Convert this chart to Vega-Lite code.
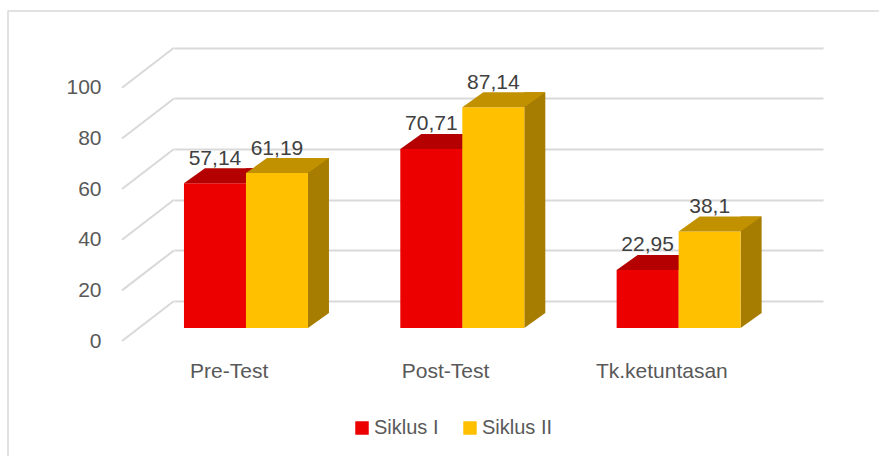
{
  "$schema": "https://vega.github.io/schema/vega-lite/v6.json",
  "width": 871,
  "height": 445,
  "autosize": {"type": "none"},
  "padding": {"left": 8, "top": 11, "right": 0, "bottom": 0},
  "background": "#FFFFFF",
  "config": {
    "view": {"stroke": "#D9D9D9", "strokeWidth": 1.5, "strokeDash": [871, 1316, 445]},
    "locale": {"number": {"decimal": ",", "thousands": ".", "grouping": [3], "currency": ["", ""]}}
  },
  "datasets": {
    "main": [
      {"kategori": "Pre-Test", "siklus": "Siklus I", "nilai": 57.14},
      {"kategori": "Pre-Test", "siklus": "Siklus II", "nilai": 61.19},
      {"kategori": "Post-Test", "siklus": "Siklus I", "nilai": 70.71},
      {"kategori": "Post-Test", "siklus": "Siklus II", "nilai": 87.14},
      {"kategori": "Tk.ketuntasan", "siklus": "Siklus I", "nilai": 22.95},
      {"kategori": "Tk.ketuntasan", "siklus": "Siklus II", "nilai": 38.1}
    ],
    "ticks": [{"v": 0}, {"v": 20}, {"v": 40}, {"v": 60}, {"v": 80}, {"v": 100}]
  },
  "data": {"name": "main"},
  "layer": [
    {
      "data": {"name": "ticks"},
      "mark": {"type": "point", "shape": "M-321.5,13L-269.5,-27", "size": 4, "filled": false, "stroke": "#D9D9D9", "strokeWidth": 2, "opacity": 1},
      "encoding": {
        "y": {"field": "v", "type": "quantitative", "title": null,
          "scale": {"domain": [0, 100], "range": [317, 63.8], "nice": false, "zero": true},
          "axis": {"domain": false, "ticks": false, "tickSize": 0, "labelPadding": 0, "offset": -93, "tickOffset": -27, "labelOffset": 40,
            "grid": true, "gridColor": "#D9D9D9", "gridWidth": 2, "values": [0, 20, 40, 60, 80, 100],
            "labelFont": "Liberation Sans", "labelFontSize": 21, "labelColor": "#595959", "title": null}}
      }
    },
    {
      "transform": [{"filter": "datum.siklus === 'Siklus I'"}],
      "mark": {"type": "bar", "width": 21, "xOffset": -25.7, "yOffset": -15, "y2Offset": -15, "color": "#9E0000"},
      "encoding": {
        "x": {"field": "kategori", "type": "nominal", "title": null, "sort": null,
          "scale": {"type": "band", "domain": ["Pre-Test", "Post-Test", "Tk.ketuntasan"], "range": [166, 815], "paddingInner": 0, "paddingOuter": 0},
          "axis": {"domain": false, "ticks": false, "labelPadding": 0, "offset": -85, "labelOffset": -53, "labelAngle": 0, "labelBaseline": "middle",
            "labelFont": "Liberation Sans", "labelFontSize": 21, "labelColor": "#595959", "grid": false, "title": null}},
        "y": {"field": "nilai", "type": "quantitative", "title": null}
      }
    },
    {
      "transform": [{"filter": "datum.siklus === 'Siklus I'"}],
      "mark": {"type": "point", "shape": "M0,0L0,-15L21,-15Z", "size": 4, "filled": true, "fill": "#9E0000", "strokeWidth": 0, "opacity": 1, "xOffset": -36.2},
      "encoding": {
        "x": {"field": "kategori", "type": "nominal", "title": null, "scale": {"type": "band"}},
        "y": {"datum": 0, "type": "quantitative", "title": null}
      }
    },
    {
      "transform": [{"filter": "datum.siklus === 'Siklus I'"}],
      "mark": {"type": "bar", "width": 62, "xOffset": -67.2},
      "encoding": {
        "x": {"field": "kategori", "type": "nominal", "title": null, "scale": {"type": "band"}},
        "y": {"field": "nilai", "type": "quantitative", "title": null},
        "color": {"field": "siklus", "type": "nominal",
          "scale": {"domain": ["Siklus I", "Siklus II"], "range": ["#EC0000", "#FFC000"]},
          "legend": {"orient": "none", "legendX": 344, "legendY": 407, "direction": "horizontal", "title": null,
            "symbolType": "square", "symbolSize": 182, "symbolStrokeWidth": 0, "symbolOpacity": 1,
            "labelFont": "Liberation Sans", "labelFontSize": 20, "labelColor": "#595959", "labelOffset": 2, "columnPadding": 21, "padding": 0}}
      }
    },
    {
      "transform": [{"filter": "datum.siklus === 'Siklus I'"}],
      "mark": {"type": "point", "shape": "M-31,0L31,0L52,-15L-10,-15Z", "size": 4, "filled": true, "fill": "#B40000", "strokeWidth": 0, "opacity": 1, "xOffset": -67.2},
      "encoding": {
        "x": {"field": "kategori", "type": "nominal", "title": null, "scale": {"type": "band"}},
        "y": {"field": "nilai", "type": "quantitative", "title": null}
      }
    },
    {
      "transform": [{"filter": "datum.siklus === 'Siklus II'"}],
      "mark": {"type": "bar", "width": 21, "xOffset": 36.3, "yOffset": -15, "y2Offset": -15, "color": "#A67D00"},
      "encoding": {
        "x": {"field": "kategori", "type": "nominal", "title": null, "scale": {"type": "band"}},
        "y": {"field": "nilai", "type": "quantitative", "title": null}
      }
    },
    {
      "transform": [{"filter": "datum.siklus === 'Siklus II'"}],
      "mark": {"type": "point", "shape": "M0,0L0,-15L21,-15Z", "size": 4, "filled": true, "fill": "#A67D00", "strokeWidth": 0, "opacity": 1, "xOffset": 25.8},
      "encoding": {
        "x": {"field": "kategori", "type": "nominal", "title": null, "scale": {"type": "band"}},
        "y": {"datum": 0, "type": "quantitative", "title": null}
      }
    },
    {
      "transform": [{"filter": "datum.siklus === 'Siklus II'"}],
      "mark": {"type": "bar", "width": 62, "xOffset": -5.2},
      "encoding": {
        "x": {"field": "kategori", "type": "nominal", "title": null, "scale": {"type": "band"}},
        "y": {"field": "nilai", "type": "quantitative", "title": null},
        "color": {"field": "siklus", "type": "nominal"}
      }
    },
    {
      "transform": [{"filter": "datum.siklus === 'Siklus II'"}],
      "mark": {"type": "point", "shape": "M-31,0L31,0L52,-15L-10,-15Z", "size": 4, "filled": true, "fill": "#C29100", "strokeWidth": 0, "opacity": 1, "xOffset": -5.2},
      "encoding": {
        "x": {"field": "kategori", "type": "nominal", "title": null, "scale": {"type": "band"}},
        "y": {"field": "nilai", "type": "quantitative", "title": null}
      }
    },
    {
      "transform": [{"filter": "datum.siklus === 'Siklus I'"}],
      "mark": {"type": "text", "font": "Liberation Sans", "fontSize": 21, "color": "#404040", "align": "center", "baseline": "alphabetic", "dy": -18.5, "xOffset": -67.2},
      "encoding": {
        "x": {"field": "kategori", "type": "nominal", "title": null, "scale": {"type": "band"}},
        "y": {"field": "nilai", "type": "quantitative", "title": null},
        "text": {"field": "nilai", "type": "quantitative", "format": "~g"}
      }
    },
    {
      "transform": [{"filter": "datum.siklus === 'Siklus II'"}],
      "mark": {"type": "text", "font": "Liberation Sans", "fontSize": 21, "color": "#404040", "align": "center", "baseline": "alphabetic", "dy": -18.5, "xOffset": -5.2},
      "encoding": {
        "x": {"field": "kategori", "type": "nominal", "title": null, "scale": {"type": "band"}},
        "y": {"field": "nilai", "type": "quantitative", "title": null},
        "text": {"field": "nilai", "type": "quantitative", "format": "~g"}
      }
    }
  ]
}
